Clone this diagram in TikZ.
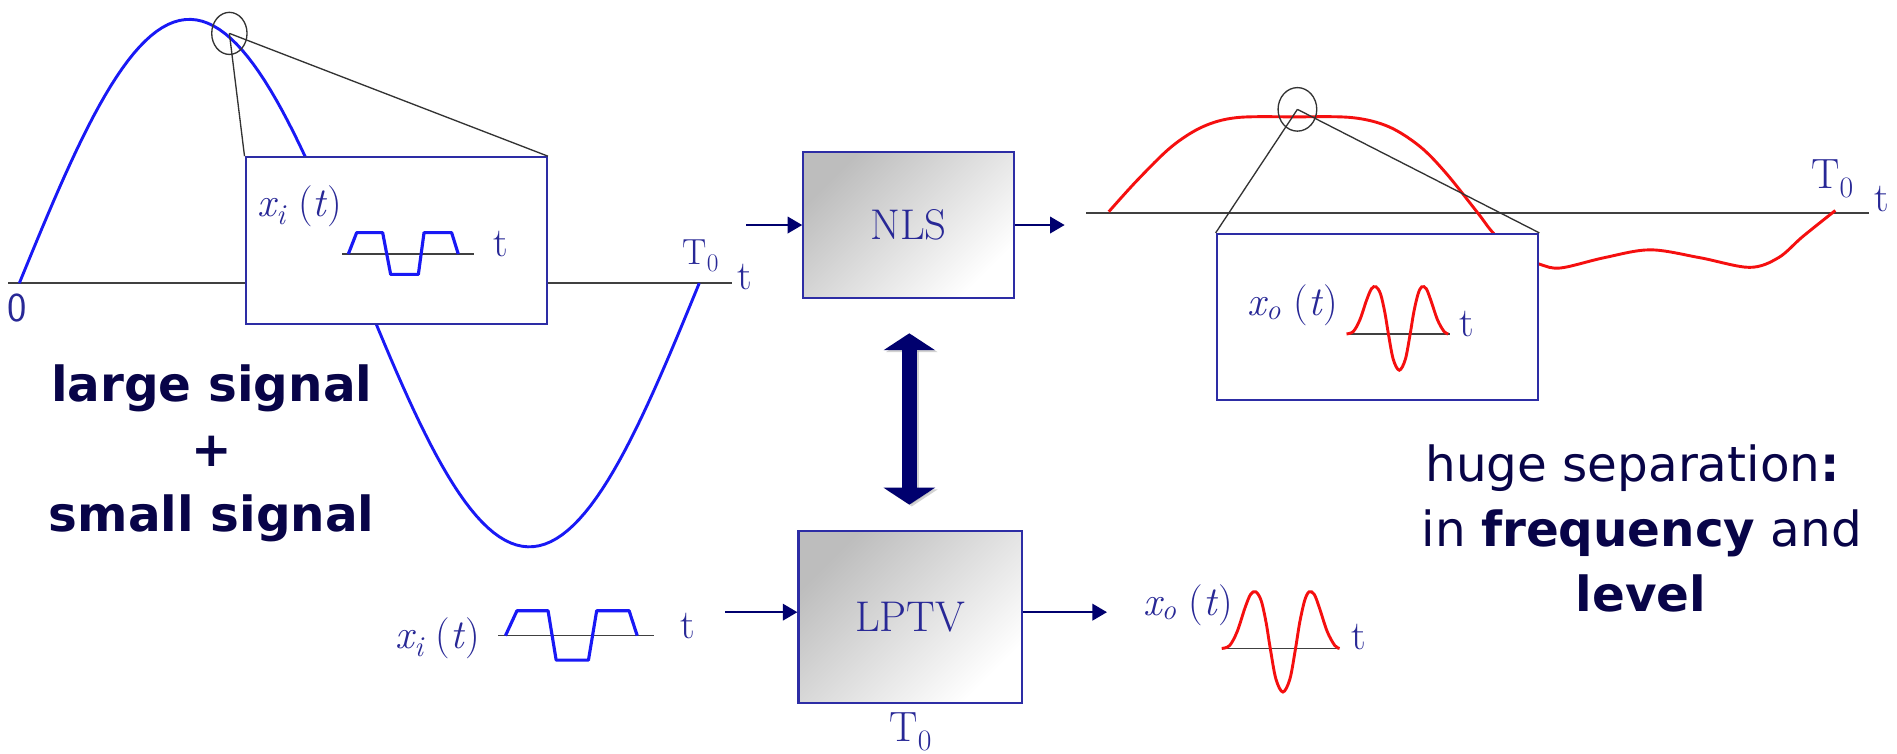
\documentclass[tikz,border=0pt]{standalone}
\usepackage{fontspec}
\setmainfont{Latin Modern Roman}
\setsansfont{Latin Modern Sans}
\newfontfamily\dejavu{DejaVu Sans}
\usetikzlibrary{arrows.meta,calc}
\definecolor{navytext}{RGB}{8,4,72}
\definecolor{lblue}{RGB}{40,40,150}
\definecolor{bblue}{RGB}{45,45,165}
\definecolor{sblue}{RGB}{25,25,245}
\definecolor{sred}{RGB}{245,15,15}
\definecolor{adark}{RGB}{0,0,110}
\newcommand{\sigx}[1]{{\itshape x}\textsubscript{\itshape #1}\hspace{0.3em}({\itshape t\/})}
\newcommand{\Tnull}{T\textsubscript{0}}
\tikzset{
  lbl/.style={text=lblue, font=\fontsize{34}{40}\selectfont, inner sep=0pt, anchor=base west},
  tzero/.style={text=lblue, inner sep=0pt, anchor=base west},
  insetbox/.style={draw=bblue, line width=1.8pt, fill=white, inner sep=0pt},
  blockbox/.style={draw=bblue, line width=1.8pt, top color=black!26, middle color=black!6, bottom color=white, shading angle=45, inner sep=0pt, text=lblue, font=\fontsize{35.5}{42}\selectfont},
  axisline/.style={draw=black!75, line width=1.4pt},
  zoomline/.style={draw=black!80, line width=1.1pt},
  bigsig/.style={draw=sblue, line width=2.4pt},
  sqsig/.style={draw=sblue, line width=2.6pt, line join=round},
  sigred/.style={draw=sred, line width=2.4pt},
  sigarrow/.style={draw=adark, line width=2pt, -{Triangle[length=12pt,width=13.5pt]}},
  bigtext/.style={text=navytext, font=\dejavu\fontsize{40}{54}\selectfont, inner sep=0pt, anchor=base},
}
\begin{document}
\begin{tikzpicture}[x=1pt,y=-1pt]
\fill[white] (0,0) rectangle (1568,623);
\useasboundingbox (0,0) rectangle (1568,623);

% ---------------- left panel ----------------
\draw[axisline] (7,234) -- (605,234);
\draw[bigsig] plot[domain=16:578, samples=120] (\x, {234 - 218*sin(0.640569*(\x-16))});
\node[text=lblue, font=\sffamily\fontsize{34}{40}\selectfont, inner sep=0pt, anchor=base] (zero) at (14.5,265.9) {0};
\node[tzero, font=\fontsize{30}{36}\selectfont] (T0L) at (564,219) {\Tnull};
\node[lbl] (tL) at (609,239) {t};

\node[insetbox, minimum width=249pt, minimum height=138pt] (inL) at (327.5,199) {};
\draw[axisline] (283,210) -- (392,210);
\draw[sqsig] (287.9,210) -- (294.8,192.3) -- (316.3,192.3) -- (322.9,226.8) -- (345.8,226.8) -- (350.5,192.3) -- (373.3,192.3) -- (378.8,210);
\node[lbl] (xiL) at (213,179) {\sigx{i}};
\node[lbl] (tiL) at (408,212) {t};

\coordinate (apexL) at (189.6,27.6);
\draw[zoomline] (apexL) ellipse [x radius=14.6, y radius=17.4];
\draw[zoomline] (apexL) -- (inL.north west);
\draw[zoomline] (apexL) -- (inL.north east);

\node[bigtext] (ls1) at (175,331.5) {\bfseries large signal};
\node[bigtext] (ls2) at (175,385.5) {\bfseries +};
\node[bigtext] (ls3) at (175,439.5) {\bfseries small signal};

% ---------------- right panel ----------------
\draw[axisline] (898,175.8) -- (1544.7,175.8);
\draw[sigred] plot[smooth, tension=0.55] coordinates {(916.5,175) (940.2,148.8) (968.4,121.2) (994.3,104.7) (1022.4,97.2) (1070,96.6) (1117.5,97.2) (1147.8,104.7) (1173.8,121.2) (1195.3,143.2) (1221.3,175.8) (1235,193.4) (1255,211) (1273,218.5) (1290,221.5) (1326,213) (1364,206.5) (1405,213) (1446,221) (1470,213) (1490,195.6) (1517,174)};
\node[tzero, font=\fontsize{35}{42}\selectfont] (T0R) at (1497,155.4) {\Tnull};
\node[lbl] (tR) at (1549,175) {t};

\node[insetbox, minimum width=265.8pt, minimum height=137.2pt] (inR) at (1138.6,262) {};
\draw[axisline] (1113,276) -- (1198.6,276);
\begin{scope}[shift={(1156.6,276)}]
\draw[sigred] plot[smooth, tension=0.55] coordinates {(-43.6,0) (-38,-2) (-32.6,-11.6) (-27,-28) (-23,-37.3) (-19.3,-39) (-15.5,-33) (-12,-18) (-9,0) (-5,21) (0,30) (5,21) (9,0) (12,-18) (15.5,-33) (18.6,-39) (22.3,-37.3) (26,-28) (31.6,-11.6) (37,-2) (40.4,0)};
\end{scope}
\node[lbl] (xoR) at (1031,260.4) {\sigx{o}};
\node[lbl] (toR) at (1206,278) {t};

\coordinate (apexR) at (1072.4,90.4);
\draw[zoomline] (apexR) ellipse [x radius=16, y radius=18];
\draw[zoomline] (apexR) -- (inR.north west);
\draw[zoomline] (apexR) -- (inR.north east);

\node[bigtext] (hs1) at (1349.4,398) {huge separation\textbf{:}};
\node[bigtext] (hs2) at (1357,451.9) {in \textbf{frequency} and};
\node[bigtext] (hs3) at (1356.3,505.6) {\textbf{level}};

% ---------------- blocks ----------------
\node[blockbox, minimum width=174pt, minimum height=120.5pt] (nls) at (751,185.75) {NLS};
\node[blockbox, minimum width=184.5pt, minimum height=142pt] (lptv) at (752.25,510) {LPTV};
\node[tzero, anchor=base, font=\fontsize{35}{42}\selectfont] (T0B) at (752.9,613) {\Tnull};

\coordinate (nlsin) at (617,186);
\coordinate (nlsout) at (880,186);
\coordinate (lin) at (599.5,506);
\coordinate (lout) at (915,506);
\draw[sigarrow] (nlsin) -- (nlsin -| nls.west);
\draw[sigarrow] (nls.east |- nlsout) -- (nlsout);
\draw[sigarrow] (lin) -- (lin -| lptv.west);
\draw[sigarrow] (lptv.east |- lout) -- (lout);

\coordinate (dtop) at ($(nls.south)+(0.6,28.6)$);
\coordinate (dbot) at ($(lptv.north)+(-0.65,-21)$);
\draw[black!35, opacity=0.5, line width=12.4pt, {Triangle[length=14pt,width=42pt]}-{Triangle[length=14pt,width=42pt]}] ($(dtop)+(2,1.5)$) -- ($(dbot)+(2,1.5)$);
\draw[adark, line width=12.4pt, {Triangle[length=14pt,width=42pt]}-{Triangle[length=14pt,width=42pt]}] (dtop) -- (dbot);

% bottom signals
\draw[axisline] (412,525.4) -- (540.6,525.4);
\draw[sqsig] (417.8,525.4) -- (427.3,504.8) -- (453,504.8) -- (459.7,545.6) -- (486.4,545.6) -- (493.2,504.8) -- (520,504.8) -- (526.7,525.4);
\node[lbl] (xiB) at (327,536) {\sigx{i}};
\node[lbl] (tiB) at (562,527.6) {t};

\draw[axisline] (1012,536) -- (1105,536);
\begin{scope}[shift={(1060.4,536)}, xscale=1.16, yscale=1.2]
\draw[sigred] plot[smooth, tension=0.55] coordinates {(-43.6,0) (-38,-2) (-32.6,-11.6) (-27,-28) (-23,-37.3) (-19.3,-39) (-15.5,-33) (-12,-18) (-9,0) (-5,21) (0,30) (5,21) (9,0) (12,-18) (15.5,-33) (18.6,-39) (22.3,-37.3) (26,-28) (31.6,-11.6) (37,-2) (40.4,0)};
\end{scope}
\node[lbl] (xoB) at (944.6,508.4) {\sigx{o}};
\node[lbl] (toB) at (1117,537) {t};
\end{tikzpicture}
\end{document}
